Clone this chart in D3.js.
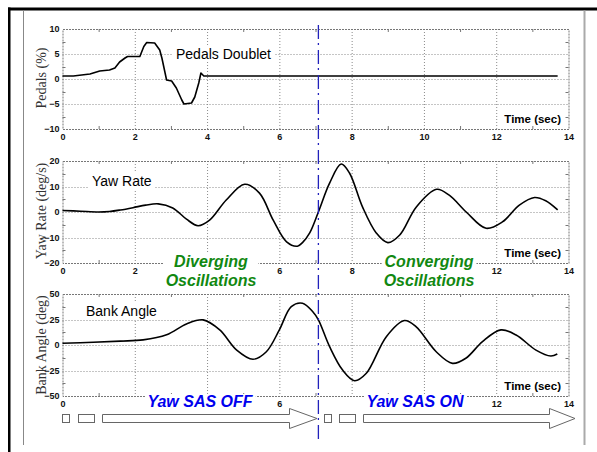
<!DOCTYPE html>
<html>
<head>
<meta charset="utf-8">
<script src="https://cdn.jsdelivr.net/npm/d3@7"></script>
<style>
  html, body { margin: 0; padding: 0; background: #fff; }
  svg { display: block; }
  .tick text { font-family: "Liberation Sans", Arial, sans-serif; font-weight: bold; font-size: 9px; fill: #111; }
</style>
</head>
<body>
<svg id="chart" width="597" height="452"></svg>
<script>
// Time axis
const timeTicks = [0, 2, 4, 6, 8, 10, 12, 14];
const sasSwitchTime = 7.08;

// Pedal input (%)
const pedalTime  = [0, 0.3, 0.76, 1.03, 1.3, 1.45, 1.58, 1.73, 1.8, 2.14, 2.25, 2.33, 2.55, 2.69, 2.75, 2.88, 3.02, 3.15, 3.3, 3.36, 3.57, 3.66, 3.77, 3.83, 3.91, 13.7];
const pedalValue = [0.6, 0.6, 1.0, 1.6, 1.8, 2.2, 3.4, 4.2, 4.5, 4.5, 6.5, 7.3, 7.2, 5.8, 4.2, -0.2, -0.4, -1.8, -4.2, -5.0, -4.8, -3.6, -0.8, 1.2, 0.6, 0.6];
const pedalTicks = [-10, -5, 0, 5, 10];

// Yaw rate (deg/s)
const yawTime  = [0, 0.5, 1.0, 1.3, 1.6, 1.95, 2.3, 2.65, 3.05, 3.43, 3.75, 4.07, 4.53, 5.04, 5.45, 5.83, 6.2, 6.5, 6.64, 6.84, 7.08, 7.39, 7.71, 7.94, 8.3, 8.68, 9.0, 9.33, 9.79, 10.35, 10.7, 11.17, 11.72, 12.17, 12.64, 13.06, 13.37, 13.7];
const yawValue = [0.6, 0.3, 0.0, 0.2, 0.8, 1.7, 2.7, 3.2, 1.6, -2.8, -5.4, -3.2, 4.7, 10.9, 7.4, -3.2, -11.7, -13.4, -12, -8.2, 0, 11.3, 18.8, 15.3, 2, -8.2, -12, -9, 2, 8.9, 6.6, 0, -6.4, -3.9, 2.7, 5.7, 4.4, 0.8];
const yawTicks = [-20, -10, 0, 10, 20];

// Bank angle (deg)
const bankTime  = [0, 0.85, 1.6, 2.23, 2.88, 3.43, 3.89, 4.35, 4.82, 5.27, 5.64, 6.0, 6.33, 6.64, 6.92, 7.08, 7.39, 7.75, 8.08, 8.4, 8.96, 9.46, 9.78, 10.34, 10.79, 11.16, 11.62, 12.13, 12.55, 13.1, 13.51, 13.69];
const bankValue = [1.7, 2.7, 3.8, 5, 10, 20.6, 24.6, 14.8, -5, -14, -6.6, 14.8, 37.7, 41, 32.8, 24.6, -1.6, -24.6, -35, -28, 8.2, 24, 18, -6.6, -18, -13, 3.3, 14.8, 9.8, -5, -10.8, -8.8];
const bankTicks = [-50, -25, 0, 25, 50];

const svg = d3.select("#chart");
const sans = "'Liberation Sans', Arial, sans-serif";
const serif = "'Liberation Serif', 'Times New Roman', serif";

// Page frame
svg.append("rect").attr("x", 8).attr("y", 7.5).attr("width", 589).attr("height", 3).attr("fill", "#000");
svg.append("rect").attr("x", 8).attr("y", 7.5).attr("width", 2.5).attr("height", 445).attr("fill", "#000");
svg.append("line").attr("x1", 23.5).attr("x2", 23.5).attr("y1", 10.5).attr("y2", 445).attr("stroke", "#888").attr("stroke-width", 1);
svg.append("line").attr("x1", 584.5).attr("x2", 584.5).attr("y1", 10.5).attr("y2", 445).attr("stroke", "#aaa").attr("stroke-width", 2);

const x = d3.scaleLinear().domain([0, 14]).range([62.5, 568.5]);

const panels = [
  { name: "Pedals (%)", title: "Pedals Doublet", titleX: 176, titleY: 59, top: 29, bottom: 129,
    ticks: pedalTicks, t: pedalTime, v: pedalValue, curve: d3.curveLinear, shownX: timeTicks, labelY: 78 },
  { name: "Yaw Rate (deg/s)", title: "Yaw Rate", titleX: 92, titleY: 186, top: 161, bottom: 263,
    ticks: yawTicks, t: yawTime, v: yawValue, curve: d3.curveCatmullRom, shownX: [0, 2, 6, 8, 12, 14], labelY: 211 },
  { name: "Bank Angle (deg)", title: "Bank Angle", titleX: 86, titleY: 316, top: 294, bottom: 396,
    ticks: bankTicks, t: bankTime, v: bankValue, curve: d3.curveCatmullRom, shownX: [0, 6, 12, 14], labelY: 345 }
];

panels.forEach(p => {
  const y = d3.scaleLinear().domain([p.ticks[0], p.ticks[p.ticks.length - 1]]).range([p.bottom, p.top]);
  const g = svg.append("g");

  // grid
  g.selectAll(".gx").data(timeTicks.slice(1, -1)).join("line")
    .attr("x1", d => x(d) + 0.5).attr("x2", d => x(d) + 0.5)
    .attr("y1", p.top).attr("y2", p.bottom)
    .attr("stroke", "#8a8a8a").attr("stroke-width", 1).attr("stroke-dasharray", "1,2");
  g.selectAll(".gy").data(p.ticks.slice(1, -1)).join("line")
    .attr("x1", x(0)).attr("x2", x(14))
    .attr("y1", d => Math.round(y(d)) + 0.5).attr("y2", d => Math.round(y(d)) + 0.5)
    .attr("stroke", "#8a8a8a").attr("stroke-width", 1).attr("stroke-dasharray", "1,2");

  // minor ticks
  const minorX = d3.range(1, 14, 2);
  const step = p.ticks[1] - p.ticks[0];
  const minorY = p.ticks.slice(0, -1).map(d => d + step / 2);
  g.selectAll(".mxb").data(minorX).join("line")
    .attr("x1", d => x(d) + 0.5).attr("x2", d => x(d) + 0.5)
    .attr("y1", p.bottom).attr("y2", p.bottom - 3).attr("stroke", "#777");
  g.selectAll(".mxt").data(minorX).join("line")
    .attr("x1", d => x(d) + 0.5).attr("x2", d => x(d) + 0.5)
    .attr("y1", p.top).attr("y2", p.top + 3).attr("stroke", "#777");
  g.selectAll(".myl").data(minorY).join("line")
    .attr("x1", x(0)).attr("x2", x(0) + 3)
    .attr("y1", d => Math.round(y(d)) + 0.5).attr("y2", d => Math.round(y(d)) + 0.5).attr("stroke", "#777");
  g.selectAll(".myr").data(minorY).join("line")
    .attr("x1", x(14)).attr("x2", x(14) - 3)
    .attr("y1", d => Math.round(y(d)) + 0.5).attr("y2", d => Math.round(y(d)) + 0.5).attr("stroke", "#777");

  // plot border
  g.append("rect")
    .attr("x", x(0) + 0.5).attr("y", p.top + 0.5)
    .attr("width", x(14) - x(0)).attr("height", p.bottom - p.top)
    .attr("fill", "none").attr("stroke", "#777").attr("stroke-width", 1).attr("stroke-dasharray", "2,1");

  // axes (labels only)
  const ax = g.append("g").attr("transform", `translate(0,${p.bottom + 3})`)
    .call(d3.axisBottom(x).tickValues(p.shownX).tickSize(0).tickPadding(2).tickFormat(d3.format("d")));
  ax.select(".domain").remove();
  const ay = g.append("g").attr("transform", `translate(${x(0) - 3},0)`)
    .call(d3.axisLeft(y).tickValues(p.ticks).tickSize(0).tickPadding(0).tickFormat(d3.format("d")));
  ay.select(".domain").remove();

  // y label
  g.append("text")
    .attr("transform", `translate(46,${p.labelY}) rotate(-90)`)
    .attr("text-anchor", "middle")
    .attr("font-family", serif).attr("font-size", 14).attr("fill", "#333")
    .text(p.name);

  // series
  const line = d3.line().x((d, i) => x(p.t[i])).y(d => y(d)).curve(p.curve);
  g.append("path").datum(p.v).attr("d", line)
    .attr("fill", "none").attr("stroke", "#000").attr("stroke-width", 1.6).attr("stroke-linejoin", "round");

  // title with white backing
  const tg = g.append("g");
  const tt = tg.append("text").attr("x", p.titleX).attr("y", p.titleY)
    .attr("font-family", sans).attr("font-size", 14).attr("fill", "#000").text(p.title);
  const bb = tt.node().getBBox();
  tg.insert("rect", "text").attr("x", bb.x - 3).attr("y", bb.y).attr("width", bb.width + 6).attr("height", bb.height).attr("fill", "#fff");

  // time caption
  const cg = g.append("g");
  const ct = cg.append("text").attr("x", 561).attr("y", p.bottom - 6).attr("text-anchor", "end")
    .attr("font-family", sans).attr("font-weight", "bold").attr("font-size", 11.5).attr("fill", "#000").text("Time (sec)");
  const cb = ct.node().getBBox();
  cg.insert("rect", "text").attr("x", cb.x - 2).attr("y", cb.y).attr("width", cb.width + 4).attr("height", cb.height).attr("fill", "#fff");
});

// Annotations with white backing
function note(lines, xPos, yPos, color, size, lh) {
  const g = svg.append("g");
  const t = g.append("text").attr("font-family", sans).attr("font-weight", "bold").attr("font-style", "italic")
    .attr("font-size", size).attr("fill", color).attr("text-anchor", "middle");
  lines.forEach((s, i) => t.append("tspan").attr("x", xPos).attr("y", yPos + i * lh).text(s));
  const b = t.node().getBBox();
  g.insert("rect", "text").attr("x", b.x - 2).attr("y", b.y + 1).attr("width", b.width + 4).attr("height", b.height - 2).attr("fill", "#fff");
}
note(["Diverging", "Oscillations"], 211, 267, "#118811", 16, 19);
note(["Converging", "Oscillations"], 429, 267, "#118811", 16, 19);
note(["Yaw SAS OFF"], 200, 407, "#0000ee", 16, 0);
note(["Yaw SAS ON"], 415, 407, "#0000ee", 16, 0);

// Mode arrows
const boxStyle = s => s.attr("fill", "#fff").attr("stroke", "#666").attr("stroke-width", 1);
function arrowSet(x0, box2, shaftStart, headBase, tip) {
  svg.append("rect").attr("x", x0 + 0.5).attr("y", 414.5).attr("width", 7).attr("height", 8).call(boxStyle);
  svg.append("rect").attr("x", box2 + 0.5).attr("y", 414.5).attr("width", 16).attr("height", 8).call(boxStyle);
  const pts = [[shaftStart, 414.5], [headBase, 414.5], [headBase, 408.5], [tip, 418.5], [headBase, 428.5], [headBase, 422.5], [shaftStart, 422.5]];
  svg.append("path").attr("d", "M" + pts.map(p => p.join(",")).join("L") + "Z").call(boxStyle);
}
arrowSet(62, 78, 102.5, 289.5, 317);
arrowSet(324, 339, 363.5, 549.5, 575);

// SAS switch marker
svg.append("line")
  .attr("x1", x(sasSwitchTime)).attr("x2", x(sasSwitchTime))
  .attr("y1", 25).attr("y2", 440)
  .attr("stroke", "#2222bb").attr("stroke-width", 1.3).attr("stroke-dasharray", "14,4,2,5");
</script>
</body>
</html>
